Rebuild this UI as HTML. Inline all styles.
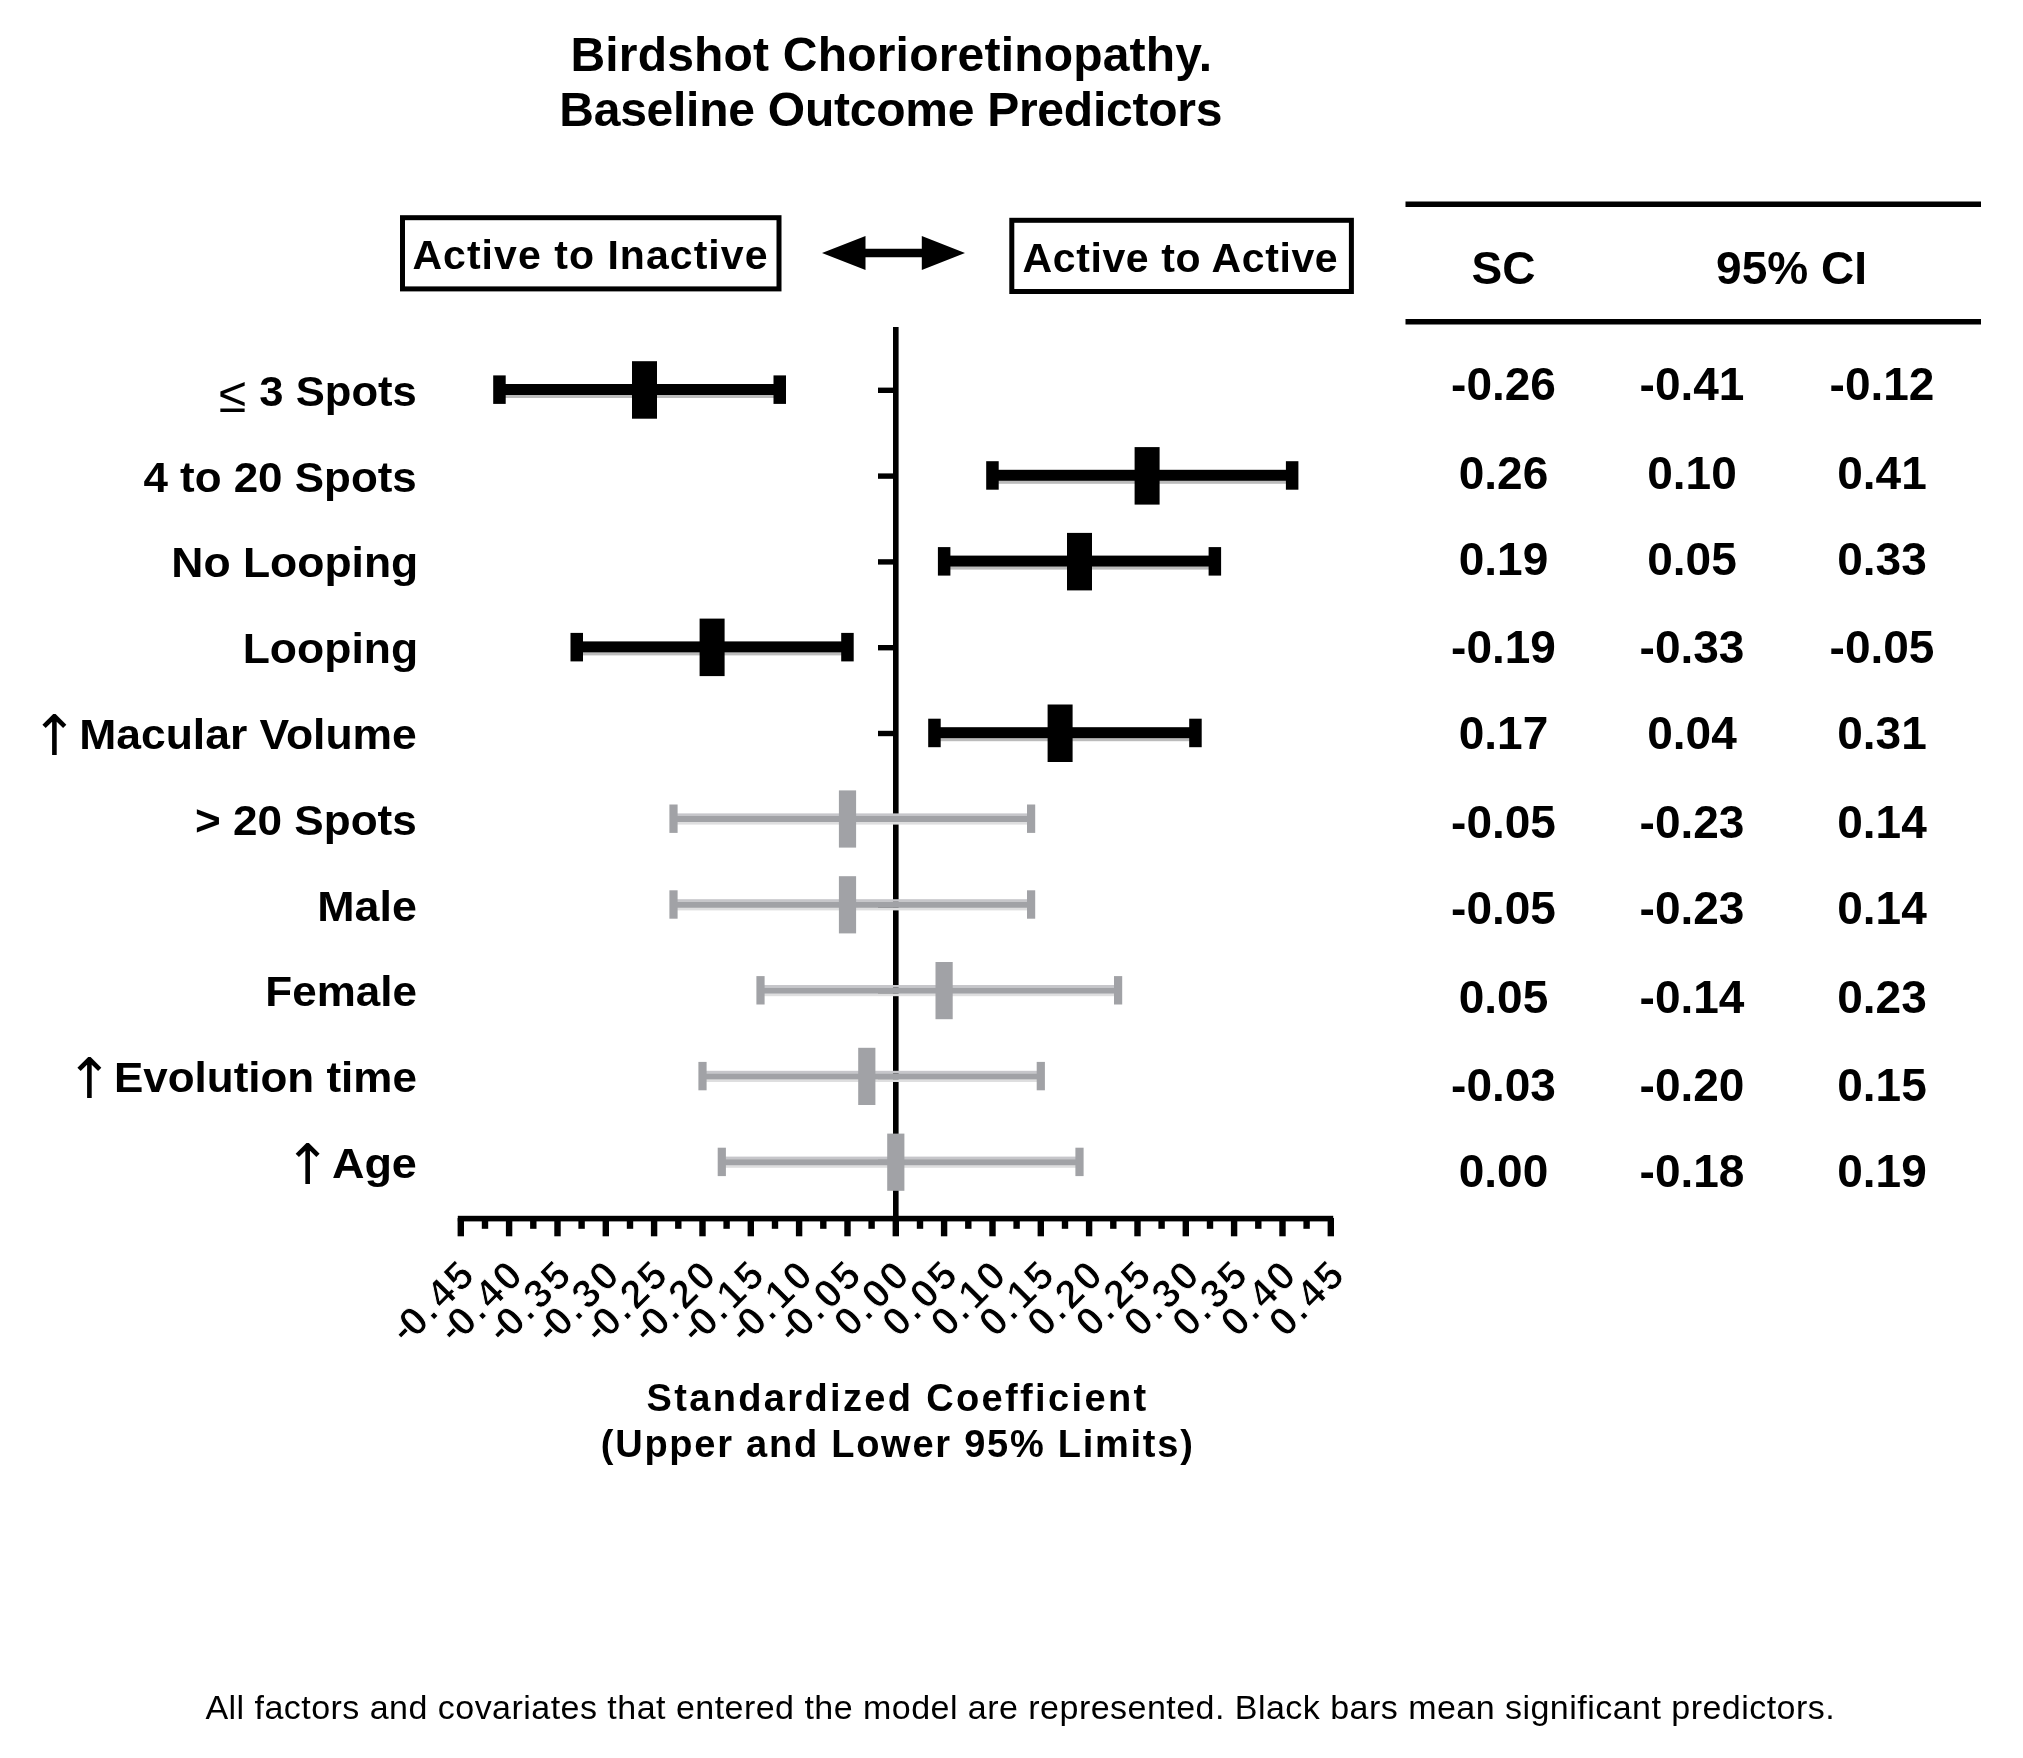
<!DOCTYPE html>
<html lang="en"><head><meta charset="utf-8"><title>Birdshot Chorioretinopathy. Baseline Outcome Predictors</title>
<style>
html,body{margin:0;padding:0;background:#fff;}
body{width:2023px;height:1758px;overflow:hidden;}
svg{display:block;filter:blur(0.7px);}
text{font-family:"Liberation Sans",sans-serif;font-weight:700;fill:#000;}
.sym{font-weight:400;}
.arr{font-family:"DejaVu Sans","Liberation Sans",sans-serif;font-weight:400;}
.cap{font-weight:400;}
</style></head><body>
<svg width="2023" height="1758" viewBox="0 0 2023 1758">
<rect x="0" y="0" width="2023" height="1758" fill="#fff"/>
<g id="title" font-size="48" text-anchor="middle">
<text x="891.3" y="71.2" letter-spacing="0.2">Birdshot Chorioretinopathy.</text>
<text x="890.7" y="125.6" letter-spacing="-0.25">Baseline Outcome Predictors</text>
</g>
<g id="legend">
<rect x="402.5" y="217.7" width="376.5" height="71.2" fill="#fff" stroke="#000" stroke-width="5"/>
<text x="412.4" y="268.7" font-size="41" letter-spacing="1.05">Active to Inactive</text>
<rect x="1011.8" y="220.3" width="339.6" height="71.2" fill="#fff" stroke="#000" stroke-width="5"/>
<text x="1022.6" y="271.7" font-size="41" letter-spacing="0.6">Active to Active</text>
<path d="M822 253 L865.5 236 L865.5 248.7 L921.8 248.7 L921.8 236 L965 253 L921.8 270 L921.8 257.3 L865.5 257.3 L865.5 270 Z" fill="#000"/>
</g>
<g id="table">
<rect x="1405.5" y="201.5" width="575.5" height="5.5" fill="#000"/>
<rect x="1405.5" y="319" width="575.5" height="5.5" fill="#000"/>
<text x="1503.5" y="283.5" font-size="46" text-anchor="middle">SC</text>
<text x="1791.5" y="283.5" font-size="46" text-anchor="middle">95% CI</text>
<text x="1503.5" y="400.3" font-size="46" text-anchor="middle">-0.26</text>
<text x="1692.0" y="400.3" font-size="46" text-anchor="middle">-0.41</text>
<text x="1882.0" y="400.3" font-size="46" text-anchor="middle">-0.12</text>
<text x="1503.5" y="488.9" font-size="46" text-anchor="middle">0.26</text>
<text x="1692.0" y="488.9" font-size="46" text-anchor="middle">0.10</text>
<text x="1882.0" y="488.9" font-size="46" text-anchor="middle">0.41</text>
<text x="1503.5" y="574.7" font-size="46" text-anchor="middle">0.19</text>
<text x="1692.0" y="574.7" font-size="46" text-anchor="middle">0.05</text>
<text x="1882.0" y="574.7" font-size="46" text-anchor="middle">0.33</text>
<text x="1503.5" y="663.3" font-size="46" text-anchor="middle">-0.19</text>
<text x="1692.0" y="663.3" font-size="46" text-anchor="middle">-0.33</text>
<text x="1882.0" y="663.3" font-size="46" text-anchor="middle">-0.05</text>
<text x="1503.5" y="749.1" font-size="46" text-anchor="middle">0.17</text>
<text x="1692.0" y="749.1" font-size="46" text-anchor="middle">0.04</text>
<text x="1882.0" y="749.1" font-size="46" text-anchor="middle">0.31</text>
<text x="1503.5" y="838.3" font-size="46" text-anchor="middle">-0.05</text>
<text x="1692.0" y="838.3" font-size="46" text-anchor="middle">-0.23</text>
<text x="1882.0" y="838.3" font-size="46" text-anchor="middle">0.14</text>
<text x="1503.5" y="924.2" font-size="46" text-anchor="middle">-0.05</text>
<text x="1692.0" y="924.2" font-size="46" text-anchor="middle">-0.23</text>
<text x="1882.0" y="924.2" font-size="46" text-anchor="middle">0.14</text>
<text x="1503.5" y="1012.7" font-size="46" text-anchor="middle">0.05</text>
<text x="1692.0" y="1012.7" font-size="46" text-anchor="middle">-0.14</text>
<text x="1882.0" y="1012.7" font-size="46" text-anchor="middle">0.23</text>
<text x="1503.5" y="1101.3" font-size="46" text-anchor="middle">-0.03</text>
<text x="1692.0" y="1101.3" font-size="46" text-anchor="middle">-0.20</text>
<text x="1882.0" y="1101.3" font-size="46" text-anchor="middle">0.15</text>
<text x="1503.5" y="1187.1" font-size="46" text-anchor="middle">0.00</text>
<text x="1692.0" y="1187.1" font-size="46" text-anchor="middle">-0.18</text>
<text x="1882.0" y="1187.1" font-size="46" text-anchor="middle">0.19</text>
</g>
<g id="labels" font-size="43">
<text x="259.3" y="405.7" textLength="157.5" lengthAdjust="spacingAndGlyphs">3 Spots</text>
<text class="sym" x="218.8" y="412.1" font-size="50">≤</text>
<text x="143.4" y="491.5" textLength="273.4" lengthAdjust="spacingAndGlyphs">4 to 20 Spots</text>
<text x="171.3" y="577.3" textLength="246.9" lengthAdjust="spacingAndGlyphs">No Looping</text>
<text x="242.7" y="663.1" textLength="175.4" lengthAdjust="spacingAndGlyphs">Looping</text>
<text x="79.2" y="748.9" textLength="337.6" lengthAdjust="spacingAndGlyphs">Macular Volume</text>
<text class="arr" x="31.0" y="754.6" font-size="56">↑</text>
<text x="195.0" y="834.7" textLength="221.8" lengthAdjust="spacingAndGlyphs">&gt; 20 Spots</text>
<text x="317.3" y="920.5" textLength="99.5" lengthAdjust="spacingAndGlyphs">Male</text>
<text x="265.3" y="1006.3" textLength="151.6" lengthAdjust="spacingAndGlyphs">Female</text>
<text x="113.9" y="1092.1" textLength="303.0" lengthAdjust="spacingAndGlyphs">Evolution time</text>
<text class="arr" x="66.0" y="1097.8" font-size="56">↑</text>
<text x="331.9" y="1177.9" textLength="85.0" lengthAdjust="spacingAndGlyphs">Age</text>
<text class="arr" x="284.3" y="1183.6" font-size="56">↑</text>
</g>
<g id="axes" fill="#000">
<rect x="893" y="327" width="5.6" height="909" />
<rect x="878" y="387.6" width="16" height="5.4"/>
<rect x="878" y="473.4" width="16" height="5.4"/>
<rect x="878" y="559.2" width="16" height="5.4"/>
<rect x="878" y="645.0" width="16" height="5.4"/>
<rect x="878" y="730.8" width="16" height="5.4"/>
<rect x="878" y="816.6" width="16" height="5.4"/>
<rect x="878" y="902.4" width="16" height="5.4"/>
<rect x="878" y="988.2" width="16" height="5.4"/>
<rect x="878" y="1074.0" width="16" height="5.4"/>
<rect x="878" y="1159.8" width="16" height="5.4"/>
<rect x="457.8" y="1215.8" width="875.4" height="5.6"/>
<rect x="457.6" y="1218" width="6.4" height="18.3"/>
<rect x="481.8" y="1218" width="6.4" height="10.8"/>
<rect x="505.9" y="1218" width="6.4" height="18.3"/>
<rect x="530.1" y="1218" width="6.4" height="10.8"/>
<rect x="554.3" y="1218" width="6.4" height="18.3"/>
<rect x="578.4" y="1218" width="6.4" height="10.8"/>
<rect x="602.6" y="1218" width="6.4" height="18.3"/>
<rect x="626.8" y="1218" width="6.4" height="10.8"/>
<rect x="650.9" y="1218" width="6.4" height="18.3"/>
<rect x="675.1" y="1218" width="6.4" height="10.8"/>
<rect x="699.3" y="1218" width="6.4" height="18.3"/>
<rect x="723.4" y="1218" width="6.4" height="10.8"/>
<rect x="747.6" y="1218" width="6.4" height="18.3"/>
<rect x="771.8" y="1218" width="6.4" height="10.8"/>
<rect x="795.9" y="1218" width="6.4" height="18.3"/>
<rect x="820.1" y="1218" width="6.4" height="10.8"/>
<rect x="844.3" y="1218" width="6.4" height="18.3"/>
<rect x="868.4" y="1218" width="6.4" height="10.8"/>
<rect x="892.6" y="1218" width="6.4" height="18.3"/>
<rect x="916.8" y="1218" width="6.4" height="10.8"/>
<rect x="940.9" y="1218" width="6.4" height="18.3"/>
<rect x="965.1" y="1218" width="6.4" height="10.8"/>
<rect x="989.3" y="1218" width="6.4" height="18.3"/>
<rect x="1013.4" y="1218" width="6.4" height="10.8"/>
<rect x="1037.6" y="1218" width="6.4" height="18.3"/>
<rect x="1061.8" y="1218" width="6.4" height="10.8"/>
<rect x="1085.9" y="1218" width="6.4" height="18.3"/>
<rect x="1110.1" y="1218" width="6.4" height="10.8"/>
<rect x="1134.3" y="1218" width="6.4" height="18.3"/>
<rect x="1158.4" y="1218" width="6.4" height="10.8"/>
<rect x="1182.6" y="1218" width="6.4" height="18.3"/>
<rect x="1206.8" y="1218" width="6.4" height="10.8"/>
<rect x="1230.9" y="1218" width="6.4" height="18.3"/>
<rect x="1255.1" y="1218" width="6.4" height="10.8"/>
<rect x="1279.3" y="1218" width="6.4" height="18.3"/>
<rect x="1303.4" y="1218" width="6.4" height="10.8"/>
<rect x="1327.6" y="1218" width="6.4" height="18.3"/>
</g>
<g id="ticklabels" font-size="40" text-anchor="end" stroke="#fff" stroke-width="0.9">
<text transform="translate(476.3,1277.7) rotate(-45)" x="0" y="0" dx="0 -2.4 2.0 4.0 2.5" dy="-2.5 2.5 0 0 0">-0.45</text>
<text transform="translate(524.6,1277.7) rotate(-45)" x="0" y="0" dx="0 -2.4 2.0 4.0 2.5" dy="-2.5 2.5 0 0 0">-0.40</text>
<text transform="translate(573.0,1277.7) rotate(-45)" x="0" y="0" dx="0 -2.4 2.0 4.0 2.5" dy="-2.5 2.5 0 0 0">-0.35</text>
<text transform="translate(621.3,1277.7) rotate(-45)" x="0" y="0" dx="0 -2.4 2.0 4.0 2.5" dy="-2.5 2.5 0 0 0">-0.30</text>
<text transform="translate(669.6,1277.7) rotate(-45)" x="0" y="0" dx="0 -2.4 2.0 4.0 2.5" dy="-2.5 2.5 0 0 0">-0.25</text>
<text transform="translate(718.0,1277.7) rotate(-45)" x="0" y="0" dx="0 -2.4 2.0 4.0 2.5" dy="-2.5 2.5 0 0 0">-0.20</text>
<text transform="translate(766.3,1277.7) rotate(-45)" x="0" y="0" dx="0 -2.4 2.0 4.0 2.5" dy="-2.5 2.5 0 0 0">-0.15</text>
<text transform="translate(814.6,1277.7) rotate(-45)" x="0" y="0" dx="0 -2.4 2.0 4.0 2.5" dy="-2.5 2.5 0 0 0">-0.10</text>
<text transform="translate(863.0,1277.7) rotate(-45)" x="0" y="0" dx="0 -2.4 2.0 4.0 2.5" dy="-2.5 2.5 0 0 0">-0.05</text>
<text transform="translate(911.3,1277.7) rotate(-45)" x="0" y="0" dx="0 2.0 4.0 2.5">0.00</text>
<text transform="translate(959.6,1277.7) rotate(-45)" x="0" y="0" dx="0 2.0 4.0 2.5">0.05</text>
<text transform="translate(1008.0,1277.7) rotate(-45)" x="0" y="0" dx="0 2.0 4.0 2.5">0.10</text>
<text transform="translate(1056.3,1277.7) rotate(-45)" x="0" y="0" dx="0 2.0 4.0 2.5">0.15</text>
<text transform="translate(1104.6,1277.7) rotate(-45)" x="0" y="0" dx="0 2.0 4.0 2.5">0.20</text>
<text transform="translate(1153.0,1277.7) rotate(-45)" x="0" y="0" dx="0 2.0 4.0 2.5">0.25</text>
<text transform="translate(1201.3,1277.7) rotate(-45)" x="0" y="0" dx="0 2.0 4.0 2.5">0.30</text>
<text transform="translate(1249.6,1277.7) rotate(-45)" x="0" y="0" dx="0 2.0 4.0 2.5">0.35</text>
<text transform="translate(1298.0,1277.7) rotate(-45)" x="0" y="0" dx="0 2.0 4.0 2.5">0.40</text>
<text transform="translate(1346.3,1277.7) rotate(-45)" x="0" y="0" dx="0 2.0 4.0 2.5">0.45</text>
</g>
<g id="xtitle" font-size="38" text-anchor="middle">
<text x="897.5" y="1410.6" letter-spacing="2.35">Standardized Coefficient</text>
<text x="897.7" y="1456.5" letter-spacing="1.75">(Upper and Lower 95% Limits)</text>
</g>
<g id="bars">
<rect x="499.5" y="395.0" width="280.3" height="3" fill="#bbb"/>
<rect x="499.5" y="384.0" width="280.3" height="11.0" fill="#000"/>
<rect x="493.2" y="375.4" width="12.5" height="28.5" fill="#000"/>
<rect x="773.5" y="375.4" width="12.5" height="28.5" fill="#000"/>
<rect x="632.0" y="361.2" width="25.0" height="57.5" fill="#000"/>
<rect x="992.5" y="480.8" width="299.7" height="3" fill="#bbb"/>
<rect x="992.5" y="469.8" width="299.7" height="11.0" fill="#000"/>
<rect x="986.2" y="461.2" width="12.5" height="28.5" fill="#000"/>
<rect x="1285.9" y="461.2" width="12.5" height="28.5" fill="#000"/>
<rect x="1134.6" y="447.1" width="25.0" height="57.5" fill="#000"/>
<rect x="944.1" y="566.6" width="270.7" height="3" fill="#bbb"/>
<rect x="944.1" y="555.6" width="270.7" height="11.0" fill="#000"/>
<rect x="937.9" y="547.1" width="12.5" height="28.5" fill="#000"/>
<rect x="1208.6" y="547.1" width="12.5" height="28.5" fill="#000"/>
<rect x="1067.0" y="532.9" width="25.0" height="57.5" fill="#000"/>
<rect x="576.8" y="652.4" width="270.7" height="3" fill="#bbb"/>
<rect x="576.8" y="641.4" width="270.7" height="11.0" fill="#000"/>
<rect x="570.5" y="632.9" width="12.5" height="28.5" fill="#000"/>
<rect x="841.2" y="632.9" width="12.5" height="28.5" fill="#000"/>
<rect x="699.6" y="618.6" width="25.0" height="57.5" fill="#000"/>
<rect x="934.5" y="738.2" width="261.0" height="3" fill="#bbb"/>
<rect x="934.5" y="727.2" width="261.0" height="11.0" fill="#000"/>
<rect x="928.2" y="718.7" width="12.5" height="28.5" fill="#000"/>
<rect x="1189.2" y="718.7" width="12.5" height="28.5" fill="#000"/>
<rect x="1047.6" y="704.5" width="25.0" height="57.5" fill="#000"/>
<rect x="673.5" y="813.4" width="357.7" height="2.6" fill="#c6c6ca"/>
<rect x="673.5" y="821.8" width="357.7" height="2.8" fill="#dededf"/>
<rect x="673.5" y="816.0" width="357.7" height="6.0" fill="#a1a2a6"/>
<rect x="669.4" y="804.5" width="8.2" height="28.4" fill="#a1a2a6"/>
<rect x="1027.0" y="804.5" width="8.2" height="28.4" fill="#a1a2a6"/>
<rect x="838.9" y="790.4" width="17.2" height="57.2" fill="#a1a2a6"/>
<rect x="673.5" y="899.2" width="357.7" height="2.6" fill="#c6c6ca"/>
<rect x="673.5" y="907.6" width="357.7" height="2.8" fill="#dededf"/>
<rect x="673.5" y="901.8" width="357.7" height="6.0" fill="#a1a2a6"/>
<rect x="669.4" y="890.3" width="8.2" height="28.4" fill="#a1a2a6"/>
<rect x="1027.0" y="890.3" width="8.2" height="28.4" fill="#a1a2a6"/>
<rect x="838.9" y="876.2" width="17.2" height="57.2" fill="#a1a2a6"/>
<rect x="760.5" y="985.0" width="357.7" height="2.6" fill="#c6c6ca"/>
<rect x="760.5" y="993.4" width="357.7" height="2.8" fill="#dededf"/>
<rect x="760.5" y="987.6" width="357.7" height="6.0" fill="#a1a2a6"/>
<rect x="756.4" y="976.1" width="8.2" height="28.4" fill="#a1a2a6"/>
<rect x="1114.0" y="976.1" width="8.2" height="28.4" fill="#a1a2a6"/>
<rect x="935.5" y="962.0" width="17.2" height="57.2" fill="#a1a2a6"/>
<rect x="702.5" y="1070.8" width="338.3" height="2.6" fill="#c6c6ca"/>
<rect x="702.5" y="1079.2" width="338.3" height="2.8" fill="#dededf"/>
<rect x="702.5" y="1073.4" width="338.3" height="6.0" fill="#a1a2a6"/>
<rect x="698.4" y="1061.9" width="8.2" height="28.4" fill="#a1a2a6"/>
<rect x="1036.7" y="1061.9" width="8.2" height="28.4" fill="#a1a2a6"/>
<rect x="858.2" y="1047.8" width="17.2" height="57.2" fill="#a1a2a6"/>
<rect x="721.8" y="1156.6" width="357.7" height="2.6" fill="#c6c6ca"/>
<rect x="721.8" y="1165.0" width="357.7" height="2.8" fill="#dededf"/>
<rect x="721.8" y="1159.2" width="357.7" height="6.0" fill="#a1a2a6"/>
<rect x="717.7" y="1147.7" width="8.2" height="28.4" fill="#a1a2a6"/>
<rect x="1075.4" y="1147.7" width="8.2" height="28.4" fill="#a1a2a6"/>
<rect x="887.2" y="1133.6" width="17.2" height="57.2" fill="#a1a2a6"/>
</g>
<text class="cap" x="205.4" y="1719.4" font-size="34" letter-spacing="0.47">All factors and covariates that entered the model are represented. Black bars mean significant predictors.</text>
</svg></body></html>
